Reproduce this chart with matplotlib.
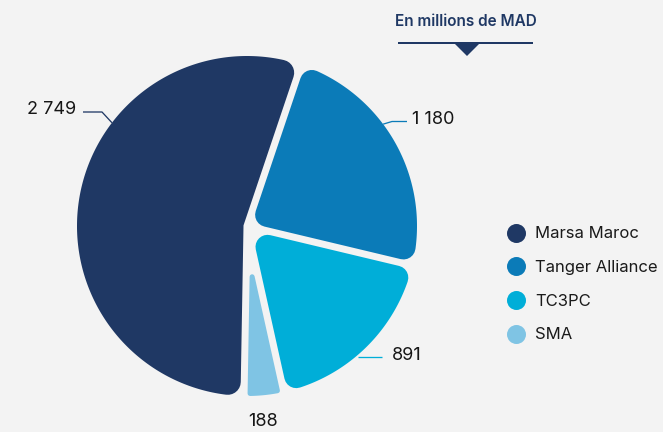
import numpy as np
import matplotlib.pyplot as plt
from matplotlib.patches import Polygon
from matplotlib.lines import Line2D

companies = ["Marsa Maroc", "Tanger Alliance", "TC3PC", "SMA"]
values = [2749, 1180, 891, 188]
value_labels = ["2 749", "1 180", "891", "188"]
colors = ["#1f3864", "#0b7bb8", "#00aed8", "#7fc4e4"]

bg = "#f3f3f3"
navy = "#1f3864"
W, H = 663, 432
PT = 72 / 100  # pixels -> points

plt.rcParams['font.family'] = ['Inter', 'DejaVu Sans']

fig = plt.figure(figsize=(W / 100, H / 100), dpi=100)
fig.patch.set_facecolor(bg)
ax = fig.add_axes([0, 0, 1, 1])
ax.set_facecolor(bg)
ax.set_xlim(0, W)
ax.set_ylim(H, 0)
ax.axis('off')

# pie geometry (pixels)
cx, cy = 247, 226
R = 170
gap = 7
start = 269
corner = [13, 12, 12, 2.5]

total = sum(values)
cum = np.concatenate([[0], np.cumsum(values)]) / total * 360
a_ang = start - cum[:-1]
b_ang = start - cum[1:]


def rounded_slice(a, b, rc):
    h = np.radians((a - b) / 2)
    mid = np.radians((a + b) / 2)
    d = gap / 2 + rc
    r_in = R - rc
    apex_r = d / np.sin(h)
    delta = np.degrees(np.arcsin(d / r_in))
    th = np.radians(np.linspace(a - delta, b + delta, 200))
    xs = np.concatenate([[cx + apex_r * np.cos(mid)], cx + r_in * np.cos(th)])
    ys = np.concatenate([[cy - apex_r * np.sin(mid)], cy - r_in * np.sin(th)])
    return np.column_stack([xs, ys])


for a, b, rc, c in zip(a_ang, b_ang, corner, colors):
    ax.add_patch(Polygon(rounded_slice(a, b, rc), closed=True, facecolor=c,
                         edgecolor=c, linewidth=2 * rc * PT, joinstyle='round'))

# value labels with leader lines
anchor_ang = [142.6, 36.8]
leader_pts = [[(102, 112), (83, 112)], [(392, 121.5), (407, 121.5)]]
for i, ang in enumerate(anchor_ang):
    x0 = cx + R * np.cos(np.radians(ang))
    y0 = cy - R * np.sin(np.radians(ang))
    pts = [(x0, y0)] + leader_pts[i]
    ax.plot([p[0] for p in pts], [p[1] for p in pts], color=colors[i], lw=1.3 * PT,
            solid_capstyle='butt')
ax.plot([358, 382], [357, 357], color=colors[2], lw=1.3 * PT, solid_capstyle='butt')

lab_kw = dict(fontsize=13, color="#161616", va='center')
ax.text(76, 110, value_labels[0], ha='right', **lab_kw)
ax.text(412, 120, value_labels[1], ha='left', **lab_kw)
ax.text(392, 356, value_labels[2], ha='left', **lab_kw)
ax.text(263, 422, value_labels[3], ha='center', **lab_kw)

# unit header
ax.text(465.5, 21, "En millions de MAD", ha='center', va='center', fontsize=11,
        fontweight='semibold', color=navy)
ax.plot([398, 533], [42.5, 42.5], color=navy, lw=2 * PT, solid_capstyle='butt')
ax.add_patch(Polygon([(454, 43), (480, 43), (467, 56)], closed=True, facecolor=navy,
                     edgecolor='none'))

# legend
handles = [Line2D([], [], marker='o', ls='', markersize=19 * PT, color=c,
                  markeredgewidth=0) for c in colors]
ax.legend(handles, companies, loc='center left', bbox_to_anchor=(508 / W, 1 - 284.5 / H),
          frameon=False, fontsize=12, borderpad=0, borderaxespad=0, handlelength=1.0,
          handletextpad=0.62, labelspacing=1.12, labelcolor="#1a1a1a")

fig.savefig("out.png", dpi=100, facecolor=bg)
